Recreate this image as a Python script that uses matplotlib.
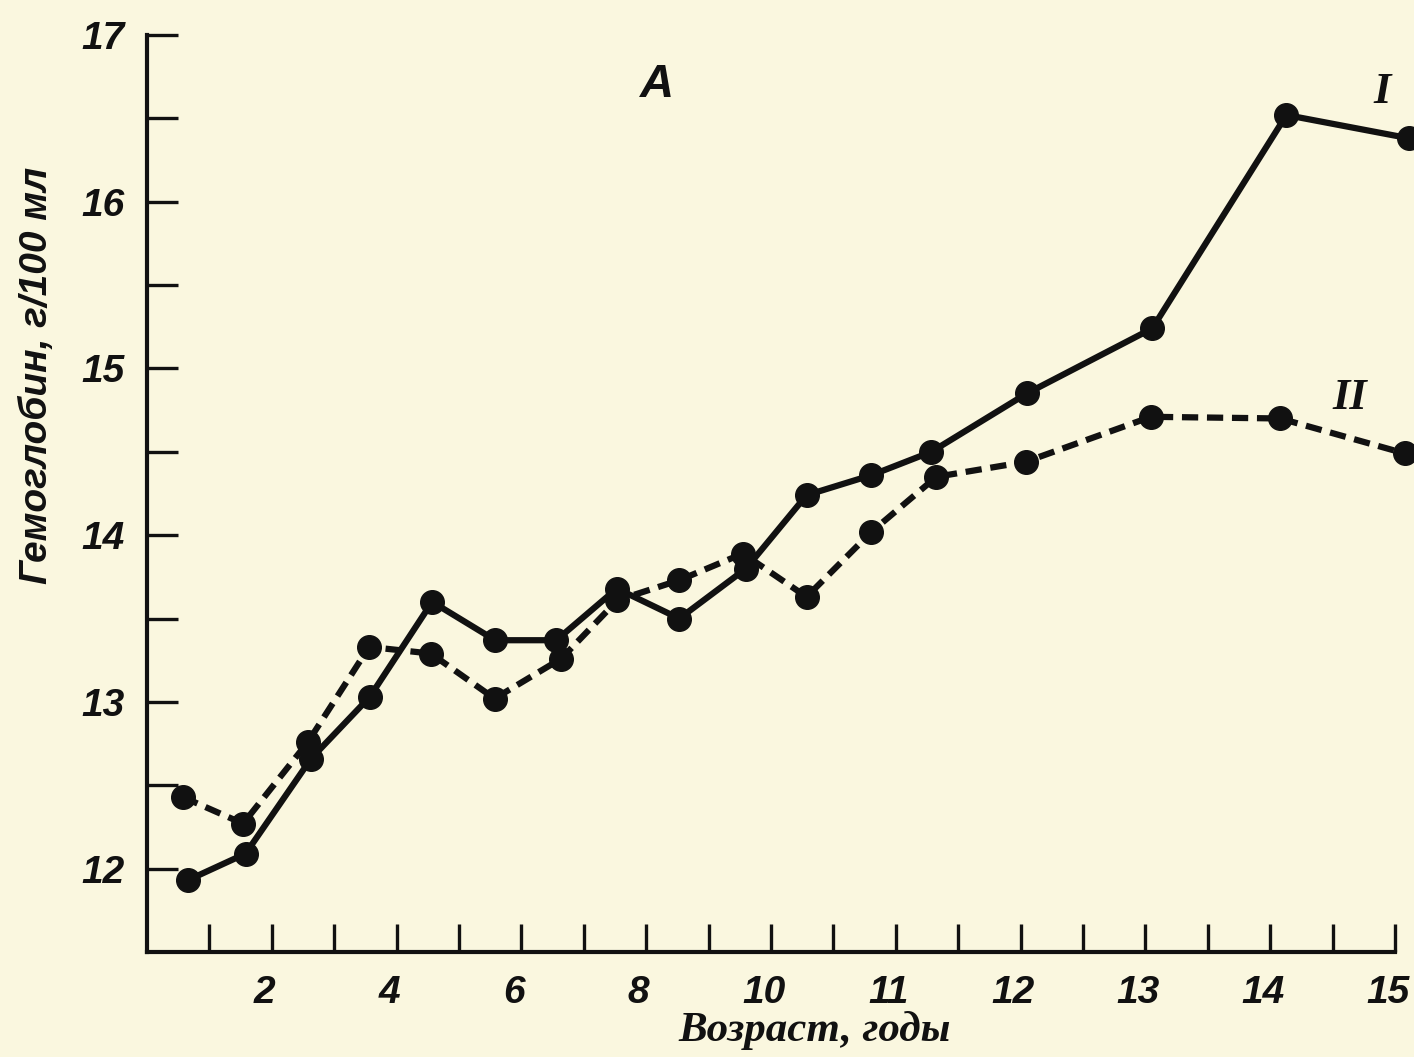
import matplotlib
matplotlib.use("Agg")
import matplotlib.pyplot as plt
from matplotlib.ticker import FixedLocator, FixedFormatter

# ---- data (x in axis units: ticks every unit, labelled every 2 units) ----
x_I = [0.65, 1.58, 2.63, 3.57, 4.57, 5.58, 6.56, 7.53, 8.53, 9.60, 10.57,
       11.61, 12.57, 14.10, 16.11, 18.26, 20.23]
hb_I = [11.93, 12.09, 12.66, 13.03, 13.60, 13.37, 13.37, 13.68, 13.50, 13.80,
        14.24, 14.36, 14.50, 14.85, 15.24, 16.52, 16.38]

x_II = [0.57, 1.54, 2.58, 3.56, 4.55, 5.57, 6.64, 7.54, 8.53, 9.55, 10.57,
        11.61, 12.65, 14.08, 16.09, 18.16, 20.16]
hb_II = [12.43, 12.27, 12.76, 13.33, 13.29, 13.02, 13.26, 13.61, 13.73, 13.89,
         13.63, 14.02, 14.35, 14.44, 14.71, 14.70, 14.49]

x_tick_pos = list(range(1, 21))
x_label_pos = [2, 4, 6, 8, 10, 12, 14, 16, 18, 20]
x_labels = ["2", "4", "6", "8", "10", "11", "12", "13", "14", "15"]
y_major = [12, 13, 14, 15, 16, 17]
y_minor = [12.5, 13.5, 14.5, 15.5, 16.5]

bg = "#FAF7DF"
ink = "#111111"
W, H = 1414, 1057

fig = plt.figure(figsize=(W / 100, H / 100), dpi=100, facecolor=bg)
ax = fig.add_axes([147 / W, 105 / H, (1395 - 147) / W, (952 - 35) / H])
ax.set_facecolor(bg)

ax.plot(x_I, hb_I, color=ink, lw=4.5, marker="o", ms=17, clip_on=False,
        solid_joinstyle="round", zorder=3)
ax.plot(x_II, hb_II, color=ink, lw=4.5, ls=(0, (2.6, 1.4)), marker="o", ms=17,
        clip_on=False, zorder=3)

ax.set_xlim(0, 20)
ax.set_ylim(11.5, 17)

for s in ["top", "right"]:
    ax.spines[s].set_visible(False)
for s in ["left", "bottom"]:
    ax.spines[s].set_linewidth(3)
    ax.spines[s].set_color(ink)

# x ticks
ax.xaxis.set_major_locator(FixedLocator(x_tick_pos))
ax.xaxis.set_major_formatter(FixedFormatter([""] * len(x_tick_pos)))
ax.tick_params(axis="x", which="major", direction="in", length=20, width=2.4,
               color=ink)
for xp, lab in zip(x_label_pos, x_labels):
    ax.text(xp - 0.12, 11.5 - 0.14, lab, ha="center", va="top",
            fontsize=28, style="italic", weight="bold", family="Liberation Sans",
            color=ink, clip_on=False)

# y ticks
ax.yaxis.set_major_locator(FixedLocator(y_major))
ax.yaxis.set_minor_locator(FixedLocator(y_minor))
ax.set_yticklabels([str(v) for v in y_major], fontsize=28, style="italic",
                   weight="bold", family="Liberation Sans", color=ink)
ax.tick_params(axis="y", which="both", direction="in", length=22, width=2.4,
               color=ink, pad=16)

fig.text(37 / W, 1 - 375 / H, "Гемоглобин, г/100 мл", rotation=90,
         ha="center", va="center", fontsize=28, style="italic", weight="bold",
         family="Liberation Sans", color=ink)
fig.text(815 / W, 1 - 1030 / H, "Возраст, годы", ha="center", va="center",
         fontsize=31, style="italic", weight="bold", family="Liberation Serif",
         color=ink)

ax.text(8.17, 16.70, "A", fontsize=34, style="italic", weight="bold",
        family="Liberation Sans", ha="center", va="center", color=ink)
ax.text(19.79, 16.66, "I", fontsize=32, style="italic", weight="bold",
        family="Liberation Serif", ha="center", va="center", color=ink)
ax.text(19.28, 14.82, "II", fontsize=32, style="italic", weight="bold",
        family="Liberation Serif", ha="center", va="center", color=ink)

fig.savefig("out.png", dpi=100, facecolor=bg)
